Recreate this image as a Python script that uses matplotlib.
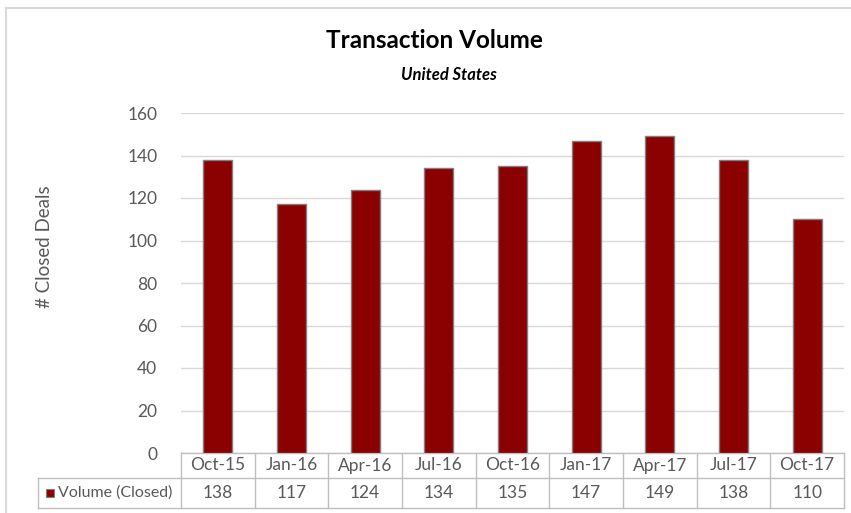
import numpy as np
import matplotlib.pyplot as plt
from matplotlib.lines import Line2D
from matplotlib.patches import Rectangle
import matplotlib.transforms as mtransforms

categories = ['Oct-15', 'Jan-16', 'Apr-16', 'Jul-16', 'Oct-16', 'Jan-17', 'Apr-17', 'Jul-17', 'Oct-17']
volume = [138, 117, 124, 134, 135, 147, 149, 138, 110]
series_name = 'Volume (Closed)'
yticks = [0, 20, 40, 60, 80, 100, 120, 140, 160]

W, H = 851, 513
BAR = '#8B0000'
TXT = '#595959'
GRID = '#D9D9D9'
TBL = '#BFBFBF'

plt.rcParams['font.family'] = ['Lato', 'DejaVu Sans']

fig = plt.figure(figsize=(W / 100, H / 100), dpi=100)

def fx(px):
    return px / W

def fy(py):
    return 1 - py / H

# plot area in pixels
left, right, top, bottom = 181, 844, 113, 453
ax = fig.add_axes([fx(left), fy(bottom), fx(right) - fx(left), fy(top) - fy(bottom)])

x = np.arange(len(categories))
ax.bar(x, volume, width=0.39, color=BAR, edgecolor='#7F7F7F', linewidth=1, zorder=3)
ax.set_xlim(-0.5, len(categories) - 0.5)
ax.set_ylim(0, 160)
ax.set_yticks(yticks)
ax.set_yticklabels([str(v) for v in yticks], color=TXT, fontsize=12.5)
ax.tick_params(axis='y', length=0, pad=17)
ax.set_xticks([])
ax.grid(axis='y', color=GRID, linewidth=1, zorder=0)
for s in ax.spines.values():
    s.set_visible(False)

# data table below the axis
trans = mtransforms.blended_transform_factory(ax.transData, fig.transFigure)
row1_top, row1_bot, row2_bot = fy(453), fy(478), fy(508)
for i in range(len(categories) + 1):
    ax.add_line(Line2D([i - 0.5, i - 0.5], [row1_top, row2_bot], transform=trans,
                       color=TBL, linewidth=1, clip_on=False))
for yy in (row1_top, row1_bot, row2_bot):
    ax.add_line(Line2D([-0.5, len(categories) - 0.5], [yy, yy], transform=trans,
                       color=TBL, linewidth=1, clip_on=False))
for i, (c, v) in enumerate(zip(categories, volume)):
    ax.text(i, (row1_top + row1_bot) / 2, c, transform=trans, ha='center', va='center',
            color=TXT, fontsize=12.5, clip_on=False)
    ax.text(i, (row1_bot + row2_bot) / 2, str(v), transform=trans, ha='center', va='center',
            color=TXT, fontsize=12.5, clip_on=False)

# legend cell
fig.add_artist(Line2D([fx(38), fx(left)], [row1_bot, row1_bot], color=TBL, linewidth=1))
fig.add_artist(Line2D([fx(38), fx(left)], [row2_bot, row2_bot], color=TBL, linewidth=1))
fig.add_artist(Line2D([fx(38), fx(38)], [row1_bot, row2_bot], color=TBL, linewidth=1))
fig.add_artist(Rectangle((fx(46), fy(497)), fx(8), fx(8) * W / H, facecolor=BAR,
                         edgecolor='#7F7F7F', linewidth=0.8))
fig.text(fx(58), (row1_bot + row2_bot) / 2, series_name, ha='left', va='center',
         color=TXT, fontsize=11.5)

# titles
fig.text(fx(434), fy(40), 'Transaction Volume', ha='center', va='center',
         fontsize=17.5, fontweight='bold', color='black')
fig.text(fx(449), fy(75), 'United States', ha='center', va='center',
         fontsize=12, fontweight='bold', fontstyle='italic', color='black')
fig.text(fx(45), fy(247), '# Closed Deals', ha='center', va='center', rotation=90,
         fontsize=13.5, color=TXT)

# chart border (top and left visible)
fig.add_artist(Line2D([fx(6), 1], [fy(7.5), fy(7.5)], color='#D9D9D9', linewidth=1.5))
fig.add_artist(Line2D([fx(6), fx(6)], [fy(7.5), 0], color='#D9D9D9', linewidth=1.5))

fig.savefig('out.png', dpi=100)
